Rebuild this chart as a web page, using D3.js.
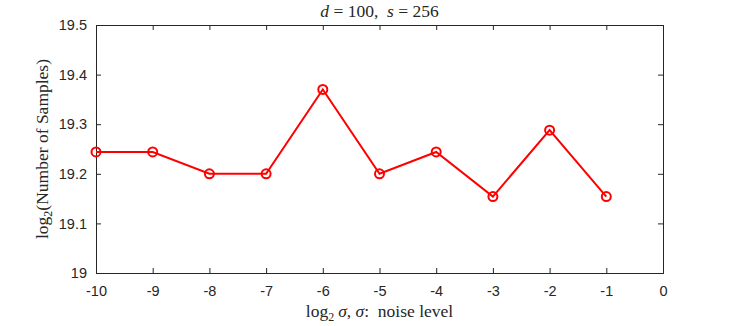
<!DOCTYPE html>
<html>
<head>
    <meta charset="utf-8">
    <script src="https://d3js.org/d3.v7.min.js"></script>
    <style>
        body { margin: 0; background: #fff; }
        .tick text { font-family: "Liberation Sans", Arial, sans-serif; font-size: 14.5px; fill: #262626; }
        .tex { font-family: "Liberation Serif", "Times New Roman", serif; fill: #262626; }
    </style>
</head>
<body>
    <svg width="733" height="326"></svg>

    <script>
        // noise level (log2 sigma) and log2 of number of samples
        var logSigma = [-10, -9, -8, -7, -6, -5, -4, -3, -2, -1];
        var logSamples = [19.244, 19.244, 19.2, 19.2, 19.37, 19.2, 19.244, 19.154, 19.288, 19.154];
        var xTicks = [-10, -9, -8, -7, -6, -5, -4, -3, -2, -1, 0];
        var yTicks = [19, 19.1, 19.2, 19.3, 19.4, 19.5];

        var svg = d3.select("svg");
        var margin = { left: 96, right: 70, top: 25, bottom: 53 };
        var width = 733 - margin.left - margin.right,
            height = 326 - margin.top - margin.bottom;

        var x = d3.scaleLinear().domain([-10, 0]).range([margin.left, margin.left + width]);
        var y = d3.scaleLinear().domain([19, 19.5]).range([margin.top + height, margin.top]);

        var axisColor = "#262626";

        // bottom and left axes with labels
        var gx = svg.append("g")
            .attr("transform", "translate(0," + (margin.top + height) + ")")
            .call(d3.axisBottom(x).tickValues(xTicks).tickSize(-5).tickPadding(13)
                .tickFormat(function(d) { return d; }));
        var gy = svg.append("g")
            .attr("transform", "translate(" + margin.left + ",0)")
            .call(d3.axisLeft(y).tickValues(yTicks).tickSize(-5).tickPadding(9)
                .tickFormat(function(d) { return d === 19 ? "19" : d3.format(".1f")(d); }));

        // mirrored ticks on top and right (box on)
        var gx2 = svg.append("g")
            .attr("transform", "translate(0," + margin.top + ")")
            .call(d3.axisTop(x).tickValues(xTicks).tickSize(-5).tickFormat(""));
        var gy2 = svg.append("g")
            .attr("transform", "translate(" + (margin.left + width) + ",0)")
            .call(d3.axisRight(y).tickValues(yTicks).tickSize(-5).tickFormat(""));

        [gx, gy, gx2, gy2].forEach(function(g) {
            g.select(".domain").attr("stroke", axisColor).attr("stroke-width", 1);
            g.selectAll(".tick line").attr("stroke", axisColor);
            g.selectAll(".tick text").attr("fill", axisColor);
        });

        // data line
        var pts = logSigma.map(function(d, i) { return [d, logSamples[i]]; });
        var line = d3.line()
            .x(function(d) { return x(d[0]); })
            .y(function(d) { return y(d[1]); });

        svg.append("path")
            .datum(pts)
            .attr("d", line)
            .attr("fill", "none")
            .attr("stroke", "#ff0000")
            .attr("stroke-width", 2);

        svg.selectAll(".marker")
            .data(pts)
            .enter().append("circle")
            .attr("class", "marker")
            .attr("cx", function(d) { return x(d[0]); })
            .attr("cy", function(d) { return y(d[1]); })
            .attr("r", 4.5)
            .attr("fill", "none")
            .attr("stroke", "#ff0000")
            .attr("stroke-width", 2);

        // title
        var title = svg.append("text")
            .attr("class", "tex")
            .attr("x", margin.left + width / 2)
            .attr("y", 17)
            .attr("text-anchor", "middle")
            .style("font-size", "17.5px");
        title.append("tspan").style("font-style", "italic").text("d");
        title.append("tspan").text("\u2005=\u2005100,\u2002");
        title.append("tspan").style("font-style", "italic").text("s");
        title.append("tspan").text("\u2005=\u2005256");

        // x label
        var xl = svg.append("text")
            .attr("class", "tex")
            .attr("x", margin.left + width / 2)
            .attr("y", 317)
            .attr("text-anchor", "middle")
            .style("font-size", "17.5px");
        xl.append("tspan").text("log");
        xl.append("tspan").attr("dy", 4).style("font-size", "12px").text("2");
        xl.append("tspan").attr("dy", -4).attr("dx", 4).style("font-style", "italic").text("σ");
        xl.append("tspan").text(",\u2005");
        xl.append("tspan").style("font-style", "italic").text("σ");
        xl.append("tspan").text(":\u2002noise level");

        // y label
        var yl = svg.append("text")
            .attr("class", "tex")
            .attr("transform", "translate(48," + (margin.top + height / 2) + ") rotate(-90)")
            .attr("text-anchor", "middle")
            .style("font-size", "17.5px");
        yl.append("tspan").text("log");
        yl.append("tspan").attr("dy", 4).style("font-size", "12px").text("2");
        yl.append("tspan").attr("dy", -4).text("(Number of Samples)");
    </script>
</body>
</html>
